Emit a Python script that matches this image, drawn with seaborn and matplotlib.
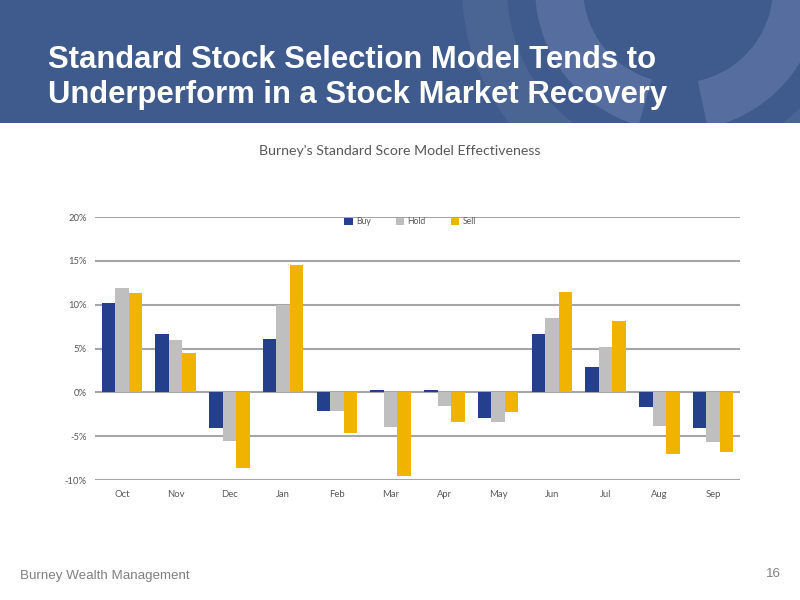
import numpy as np
import pandas as pd
import matplotlib
matplotlib.use("Agg")
import matplotlib.pyplot as plt
from matplotlib.patches import Rectangle, Wedge
import seaborn as sns

months = ["Oct", "Nov", "Dec", "Jan", "Feb", "Mar", "Apr", "May", "Jun", "Jul", "Aug", "Sep"]
buy = [10.2, 6.6, -4.1, 6.1, -2.1, 0.3, 0.3, -2.9, 6.7, 2.9, -1.7, -4.1]
hold = [11.9, 6.0, -5.6, 10.0, -2.1, -3.9, -1.6, -3.4, 8.5, 5.2, -3.8, -5.7]
sell = [11.3, 4.5, -8.6, 14.5, -4.6, -9.6, -3.4, -2.3, 11.5, 8.1, -7.0, -6.8]
series = ["Buy", "Hold", "Sell"]
yticks = [-10, -5, 0, 5, 10, 15, 20]
ytick_labels = ["-10%", "-5%", "0%", "5%", "10%", "15%", "20%"]

title_lines = ["Standard Stock Selection Model Tends to",
               "Underperform in a Stock Market Recovery"]
subtitle = "Burney's Standard Score Model Effectiveness"
footer = "Burney Wealth Management"
page = "16"

df = pd.DataFrame({
    "Month": months * 3,
    "Series": ["Buy"] * 12 + ["Hold"] * 12 + ["Sell"] * 12,
    "Value": buy + hold + sell,
})

sns.set_style("white")
plt.rcParams["font.family"] = ["Liberation Sans", "DejaVu Sans"]

fig = plt.figure(figsize=(8, 6), dpi=100)

# background decoration layer (pixel coordinates)
bg = fig.add_axes([0, 0, 1, 1], zorder=0)
bg.set_xlim(0, 800)
bg.set_ylim(600, 0)
bg.axis("off")
header_col = "#3F5A8C"
bg.add_patch(Rectangle((0, 0), 800, 123, color=header_col, lw=0))
clip = Rectangle((0, 0), 800, 123, transform=bg.transData)
w1 = Wedge((678, -12), 216, 0, 360, width=45, color="#4A6494", lw=0)
w2 = Wedge((678, -12), 143, 106, 438, width=48, color="#556E9F", lw=0)
for p in (w1, w2):
    bg.add_patch(p)
    p.set_clip_path(clip)

for i, line in enumerate(title_lines):
    fig.text(48 / 800, 1 - (68 + 35 * i) / 600, line,
             color="white", fontsize=22.3, fontweight="bold", ha="left", va="baseline",
             family="Liberation Sans")
fig.text(400 / 800, 1 - 151 / 600, subtitle, color="#595959", fontsize=10.2,
         ha="center", va="center", family="Lato")
fig.text(20 / 800, 1 - 579 / 600, footer, color="#808080", fontsize=9.6,
         ha="left", va="baseline", family="Liberation Sans")
fig.text(781 / 800, 1 - 577 / 600, page, color="#808080", fontsize=9.6,
         ha="right", va="baseline", family="Liberation Sans")

ax = fig.add_axes([95 / 800, 1 - 480 / 600, 645 / 800, 263 / 600], zorder=1)
ax.patch.set_alpha(0)
palette = {"Buy": "#243F8C", "Hold": "#BFBFBF", "Sell": "#F0B400"}
sns.barplot(data=df, x="Month", y="Value", hue="Series", hue_order=series,
            order=months, palette=palette, width=0.75, gap=0, ax=ax,
            saturation=1, linewidth=0, zorder=3)

ax.set_ylim(-10, 20)
ax.set_xlim(-0.5, 11.5)
ax.set_yticks(yticks)
ax.set_yticklabels(ytick_labels)
ax.yaxis.grid(True, color="#A6A6A6", lw=1.5, zorder=0)
ax.set_axisbelow(True)
for s in ax.spines.values():
    s.set_visible(False)
ax.set_xlabel("")
ax.set_ylabel("")
ax.tick_params(axis="y", length=0, pad=6, labelsize=6.8, labelcolor="#595959")
ax.tick_params(axis="x", length=0, pad=7, labelsize=6.8, labelcolor="#595959")
for lbl in ax.get_xticklabels() + ax.get_yticklabels():
    lbl.set_family("Lato")

leg = ax.legend(loc="center", bbox_to_anchor=((410 - 95) / 645, (480 - 222) / 263),
                ncol=3, frameon=False, fontsize=6.2, handlelength=1.0, handleheight=1.0,
                handletextpad=0.35, columnspacing=2.9)
for t in leg.get_texts():
    t.set_color("#595959")
    t.set_family("Lato")

fig.savefig("out.png", dpi=100)
